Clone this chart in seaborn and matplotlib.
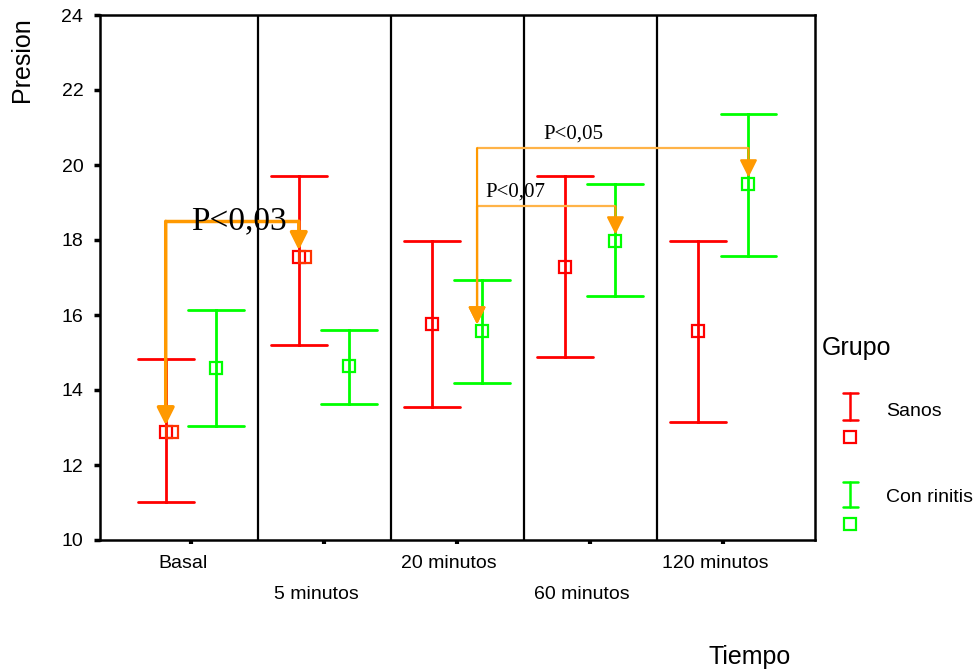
import numpy as np
import pandas as pd
import matplotlib
matplotlib.use("Agg")
import matplotlib.pyplot as plt
import matplotlib.transforms as mtransforms
import seaborn as sns

# ---------------- data ----------------
tiempos = ["Basal", "5 minutos", "20 minutos", "60 minutos", "120 minutos"]
grupos = ["Sanos", "Con rinitis"]
sanos_media = [12.88, 17.55, 15.76, 17.28, 15.57]
sanos_inf = [11.01, 15.20, 13.55, 14.88, 13.15]
sanos_sup = [14.83, 19.71, 17.97, 19.71, 17.97]
rinitis_media = [14.59, 14.64, 15.57, 17.97, 19.49]
rinitis_inf = [13.04, 13.63, 14.19, 16.51, 17.57]
rinitis_sup = [16.13, 15.60, 16.93, 19.49, 21.36]
y_ticks = [10, 12, 14, 16, 18, 20, 22, 24]
colores = {"Sanos": "#ff0000", "Con rinitis": "#00ff00"}

# comparisons: (label, from (time, group), to (time, group), bracket level)
comparaciones = [
    ("P<0,03", ("Basal", "Sanos"), ("5 minutos", "Sanos"), 18.5),
    ("P<0,05", ("20 minutos", "Con rinitis"), ("120 minutos", "Con rinitis"), 20.45),
    ("P<0,07", ("20 minutos", "Con rinitis"), ("60 minutos", "Con rinitis"), 18.9),
]

rows = []
for g, med, lo, hi in [("Sanos", sanos_media, sanos_inf, sanos_sup),
                       ("Con rinitis", rinitis_media, rinitis_inf, rinitis_sup)]:
    for t, m, l, h in zip(tiempos, med, lo, hi):
        for v in (l, m, h):
            rows.append({"Tiempo": t, "Grupo": g, "Presion": v})
df = pd.DataFrame(rows)

# ---------------- figure ----------------
sns.set_style("white")
plt.rcParams["font.family"] = ["Liberation Sans", "DejaVu Sans"]
plt.rcParams["text.color"] = "black"
plt.rcParams["xtick.color"] = "black"
plt.rcParams["ytick.color"] = "black"
plt.rcParams["axes.labelcolor"] = "black"

fig = plt.figure(figsize=(9.77, 6.72), dpi=100)
ax = fig.add_axes([100 / 977, 1 - 540 / 672, 715 / 977, 525 / 672])

DODGE = 0.38
sns.pointplot(data=df, x="Tiempo", y="Presion", hue="Grupo",
              order=tiempos, hue_order=grupos, palette=colores,
              estimator="median", errorbar=lambda v: (v.min(), v.max()),
              dodge=DODGE, markers="s", linestyles="none", capsize=0.42,
              err_kws={"linewidth": 2}, markersize=9,
              markerfacecolor="none", markeredgewidth=1.6,
              legend=False, ax=ax)

ax.set_xlim(-0.684, 4.69)
ax.set_ylim(10, 24)
ax.set_yticks(y_ticks)
ax.set_yticklabels([str(v) for v in y_ticks])
ax.set_xlabel("")
ax.set_ylabel("")

for i in range(len(tiempos) - 1):
    ax.axvline(i + 0.5, color="black", lw=1.6, zorder=1)

for s in ax.spines.values():
    s.set_visible(True)
    s.set_color("black")
    s.set_linewidth(1.8)

ax.tick_params(axis="y", direction="out", length=4, width=2.5, labelsize=14, pad=8,
               left=True, colors="black")
ax.tick_params(axis="x", direction="out", length=3, width=3, labelsize=14, pad=8,
               bottom=True, colors="black")
ax.set_xticks(range(len(tiempos)))
ax.set_xticklabels([t if i % 2 == 0 else "\n" + t for i, t in enumerate(tiempos)])
shift = mtransforms.ScaledTranslation(-8 / 100, 0, fig.dpi_scale_trans)
for lab in ax.get_xticklabels():
    lab.set_linespacing(2.05)
    lab.set_color("black")
    lab.set_transform(lab.get_transform() + shift)
for lab in ax.get_yticklabels():
    lab.set_color("black")

# ---------------- significance brackets ----------------
off = {"Sanos": -DODGE / 2, "Con rinitis": DODGE / 2}
medias = {("Sanos", t): m for t, m in zip(tiempos, sanos_media)}
medias.update({("Con rinitis", t): m for t, m in zip(tiempos, rinitis_media)})

def xpos(t, g):
    return tiempos.index(t) + off[g]

naranja_f = "#ff9900"
naranja_c = "#ffb347"
for k, (txt, (t1, g1), (t2, g2), nivel) in enumerate(comparaciones):
    x1 = xpos(t1, g1)
    x2 = xpos(t2, g2)
    if g1 == "Con rinitis":
        x1 -= 0.04
    col = naranja_f if k == 0 else naranja_c
    lw = 2.5 if k == 0 else 1.6
    ax.plot([x1, x2], [nivel, nivel], color=col, lw=lw, zorder=4, solid_capstyle="butt")
    style = "-|>,head_length=0.7,head_width=0.35"
    for x, (t, g) in ((x1, (t1, g1)), (x2, (t2, g2))):
        tip = medias[(g, t)] + 0.18
        ax.annotate("", xy=(x, tip), xytext=(x, nivel),
                    arrowprops=dict(arrowstyle=style, color=naranja_f,
                                    lw=lw, shrinkA=0, shrinkB=0, mutation_scale=15),
                    zorder=5)
    if k == 0:
        ax.text((x1 + x2) / 2 + 0.05, nivel, txt, ha="center", va="center",
                fontsize=24, family=["Liberation Serif"], zorder=6)
        # overlapping highlight squares at compared points
        tr = mtransforms.offset_copy(ax.transData, fig=fig, x=6, y=0, units="dots")
        for x, (t, g) in ((x1, (t1, g1)), (x2, (t2, g2))):
            ax.plot([x], [medias[(g, t)]], marker="s", ms=9, mfc="none",
                    mec="#ff3300", mew=1.6, transform=tr, zorder=6)
    else:
        ax.text(x1 + (0.5 if k == 1 else 0.06), nivel + 0.12, txt,
                ha="left", va="bottom",
                fontsize=15, family=["Liberation Serif"], zorder=6)

# ---------------- axis titles ----------------
fig.text(22 / 977, 1 - 60 / 672, "Presion", rotation=90, ha="center", va="center", fontsize=18)
fig.text(750 / 977, 1 - 657 / 672, "Tiempo", ha="center", va="center", fontsize=18)

# ---------------- legend ----------------
lg = fig.add_axes([0, 0, 1, 1], facecolor="none")
lg.set_xlim(0, 977)
lg.set_ylim(672, 0)
lg.axis("off")
lg.text(822, 348, "Grupo", ha="left", va="center", fontsize=18)
for g, (y0, y1, ysq, ytx) in zip(grupos, [(393, 420, 437, 411), (482, 507, 524, 498)]):
    c = colores[g]
    lg.plot([850, 850], [y0, y1], color=c, lw=1.8)
    lg.plot([843, 858], [y0, y0], color=c, lw=1.8)
    lg.plot([843, 858], [y1, y1], color=c, lw=1.8)
    lg.plot([850], [ysq], marker="s", ms=8.5, mfc="none", mec=c, mew=1.6)
    lg.text(886, ytx, g, ha="left", va="center", fontsize=14)

fig.savefig("out.png", dpi=100)
